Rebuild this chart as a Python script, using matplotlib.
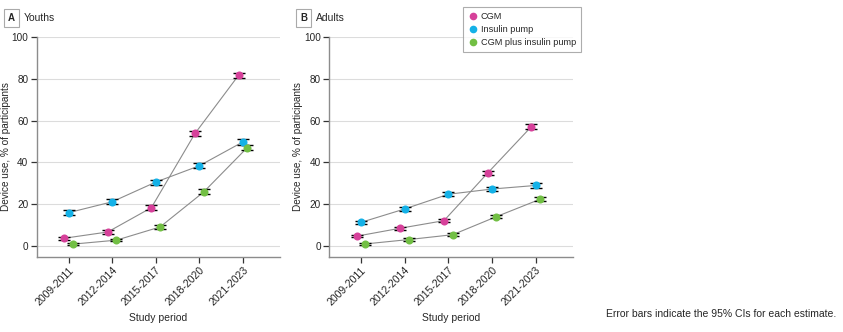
import matplotlib.pyplot as plt
import numpy as np

periods = ['2009-2011', '2012-2014', '2015-2017', '2018-2020', '2021-2023']
series_names = ['CGM', 'Insulin pump', 'CGM plus insulin pump']
colors = ['#d6419a', '#14b1e7', '#72bf44']

# Youths: estimate and 95% CI half width
youth_cgm = [3.8, 6.8, 18.4, 53.8, 81.6]
youth_cgm_ci = [0.8, 0.8, 1.1, 1.4, 1.3]
youth_pump = [16.0, 21.2, 30.6, 38.4, 49.8]
youth_pump_ci = [1.2, 1.1, 1.2, 1.3, 1.4]
youth_combo = [1.0, 2.9, 9.2, 25.9, 47.1]
youth_combo_ci = [0.5, 0.6, 0.8, 1.2, 1.4]

# Adults
adult_cgm = [4.8, 8.6, 12.2, 34.9, 57.0]
adult_cgm_ci = [0.6, 0.7, 0.8, 1.0, 1.1]
adult_pump = [11.4, 17.8, 24.8, 27.3, 29.0]
adult_pump_ci = [0.8, 0.8, 0.9, 1.0, 1.0]
adult_combo = [1.1, 3.2, 5.5, 14.1, 22.4]
adult_combo_ci = [0.3, 0.5, 0.6, 0.8, 0.9]

panels = [
    ('A', 'Youths', [youth_cgm, youth_pump, youth_combo],
     [youth_cgm_ci, youth_pump_ci, youth_combo_ci]),
    ('B', 'Adults', [adult_cgm, adult_pump, adult_combo],
     [adult_cgm_ci, adult_pump_ci, adult_combo_ci]),
]

plt.rcParams['font.family'] = ['Liberation Sans', 'DejaVu Sans']
plt.rcParams['font.size'] = 7

text_col = '#262626'
fig = plt.figure(figsize=(8.43, 3.32), dpi=100)
x = np.arange(len(periods))
offsets = [-0.1, 0.0, 0.1]
lefts = [0.0435, 0.3906]

for (letter, title, values, cis), left in zip(panels, lefts):
    ax = fig.add_axes([left, 0.2268, 0.2887, 0.6627])
    for vals, ci, col, off in zip(values, cis, colors, offsets):
        ax.plot(x + off, vals, color='#8c8c8c', lw=0.8, zorder=2)
        ax.errorbar(x + off, vals, yerr=ci, fmt='none', ecolor='black',
                    elinewidth=0.8, capsize=4, capthick=1.0, zorder=3)
        ax.plot(x + off, vals, 'o', color=col, ms=5.8, mec='none', zorder=4)
    ax.set_xlim(-0.73, 4.85)
    ax.set_ylim(-5, 100)
    ax.set_yticks(range(0, 101, 20))
    ax.yaxis.grid(True, color='#dcdcdc', lw=0.8)
    ax.set_axisbelow(True)
    ax.set_xticks(x)
    ax.set_xticklabels(periods, rotation=45, ha='right', rotation_mode='anchor')
    for s in ['top', 'right']:
        ax.spines[s].set_visible(False)
    for s in ['left', 'bottom']:
        ax.spines[s].set_color('#8c8c8c')
        ax.spines[s].set_linewidth(1.0)
    ax.spines['left'].set_bounds(-5, 100)
    ax.tick_params(axis='both', colors='#333333', labelcolor=text_col,
                   length=4, width=0.9, pad=2)
    ax.tick_params(axis='y', labelsize=7.2)
    ax.tick_params(axis='x', labelsize=7.6)
    ax.set_ylabel('Device use, % of participants', color=text_col, fontsize=7.2, labelpad=0.5)
    ax.set_xlabel('Study period', color=text_col, fontsize=7.5, labelpad=4)
    ax.text(-0.105, 1.085, letter, transform=ax.transAxes, fontsize=7,
            fontweight='bold', color=text_col, ha='center', va='center',
            bbox=dict(boxstyle='square,pad=0.4', fc='white', ec='#aaaaaa', lw=0.8))
    ax.text(-0.055, 1.085, title, transform=ax.transAxes, fontsize=7.5,
            color=text_col, ha='left', va='center')

handles = [plt.Line2D([], [], marker='o', ls='none', color=c, ms=5.5, mec='none')
           for c in colors]
leg = fig.legend(handles, series_names, loc='upper left',
                 bbox_to_anchor=(463 / 843, 1 - 7 / 332), frameon=True,
                 fontsize=6.6, handletextpad=0.4, borderpad=0.55, borderaxespad=0,
                 labelspacing=0.45, handlelength=1.0, fancybox=False)
leg.get_frame().set_edgecolor('#999999')
leg.get_frame().set_linewidth(0.8)
for t in leg.get_texts():
    t.set_color(text_col)

fig.text(836 / 843, 1 - 314 / 332, 'Error bars indicate the 95% CIs for each estimate.',
         ha='right', va='center', fontsize=7.5, color=text_col)

fig.savefig('out.png', dpi=100)
